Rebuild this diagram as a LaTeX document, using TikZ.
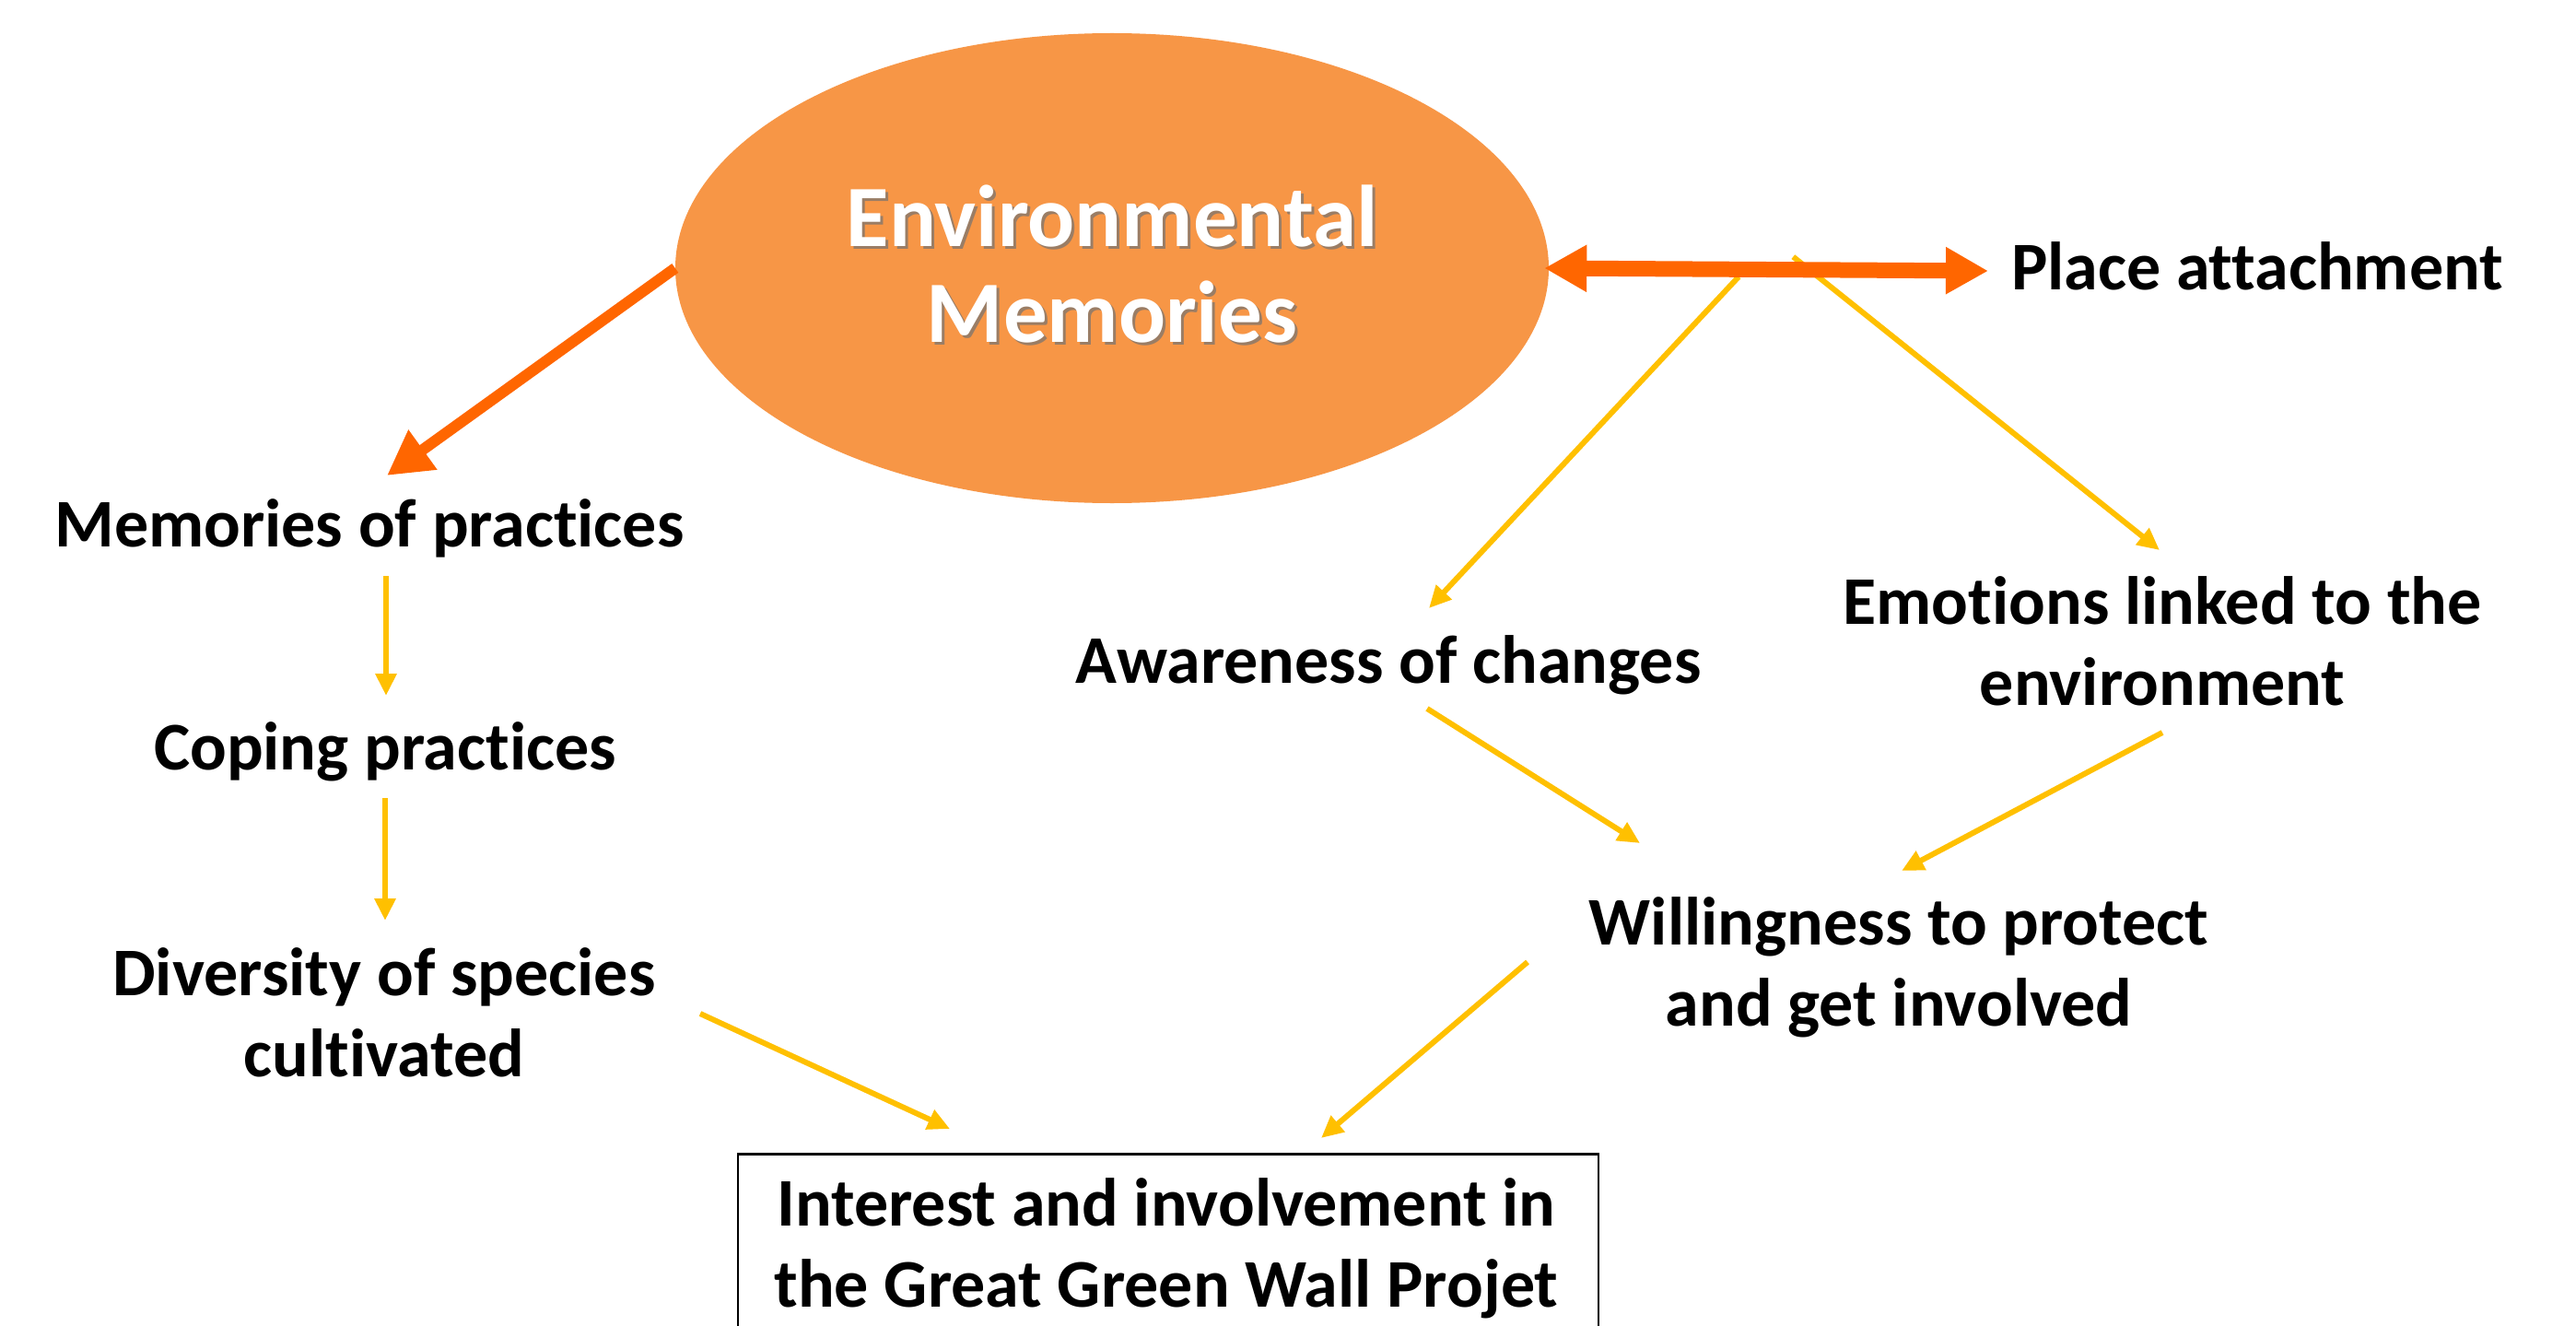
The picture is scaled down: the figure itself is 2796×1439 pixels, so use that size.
\documentclass[tikz,border=0pt]{standalone}
\usepackage{fontspec}
\setmainfont{Carlito}[Ligatures=NoCommon]
\usetikzlibrary{arrows.meta,shapes.geometric,calc}
\definecolor{emfill}{HTML}{F79646}
\definecolor{org}{HTML}{FF6600}
\definecolor{ylw}{HTML}{FFC000}
\begin{document}
\begin{tikzpicture}[x=1pt,y=-1pt,
  lbl/.style={font=\fontsize{74}{88}\selectfont\bfseries, align=center, anchor=base, inner sep=0pt},
  emtxt/.style={font=\fontsize{95}{104}\selectfont\bfseries, align=center, anchor=base, inner sep=0pt},
  ya/.style={draw=ylw, line width=6pt, -{Triangle[length=24pt,width=22pt]}},
  oa/.style={draw=org, line width=12pt, -{Triangle[length=48pt,width=50pt]}},
  dbl/.style={draw=org, line width=17pt, {Triangle[length=46pt,width=48pt]}-{Triangle[length=46pt,width=48pt]}},
  boxstyle/.style={draw=black, line width=2.5pt, minimum width=934pt, minimum height=230pt, anchor=north, inner sep=0pt}
]
\useasboundingbox (0,0) rectangle (2796,1439);
\clip (0,0) rectangle (2796,1439);
\fill[white] (0,0) rectangle (2796,1439);

% central ellipse (multi-line nodes are placed at the baseline of their last line)
\node[ellipse, fill=emfill, minimum width=948pt, minimum height=510pt, inner sep=0pt] (em) at (1207,291) {};
\node[emtxt, text=black!55, opacity=0.7] (emsh) at (1210,374) {Environmental\\Memories};
\node[emtxt, text=white] (emt) at (1207,371) {Environmental\\Memories};

% labels
\node[lbl] (pa) at (2450,314) {Place attachment};
\node[lbl] (mop) at (401,593) {Memories of practices};
\node[lbl] (cop) at (418,835) {Coping practices};
\node[lbl] (div) at (417,1168) {Diversity of species\\cultivated};
\node[lbl] (aw) at (1507,741) {Awareness of changes};
\node[lbl] (emo) at (2347,765) {Emotions linked to the\\environment};
\node[lbl] (wil) at (2061,1113) {Willingness to protect\\and get involved};
\node[boxstyle] (box) at (1268,1251) {};
\node[lbl] (boxt) at (1266,1418) {Interest and involvement in\\the Great Green Wall Projet};

% junction points on the double arrow
\coordinate (patip) at ($(pa.base)+(-292,-20)$);
\coordinate (j1) at ($(em.east)!0.432!(patip)+(0,8)$);
\coordinate (j2) at ($(em.east)!0.556!(patip)+(0,-14)$);

% yellow connectors
\draw[ya] (j1) -- ($(aw.base)+(44,-81)$);
\draw[ya] (j2) -- ($(emo.base)+(-3,-168)$);
\draw[ya] ($(mop.base)+(18,32)$) -- ($(cop.base)+(1,-80)$);
\draw[ya] ($(cop.base)+(0,31)$) -- ($(div.base)+(1,-169)$);
\draw[ya] ($(div.base)+(343,-68)$) -- ($(box.north)+(-237,-26)$);
\draw[ya] ($(wil.base)+(-403,-69)$) -- ($(box.north)+(166,-16)$);
\draw[ya] ($(aw.base)+(42,28)$) -- ($(wil.base)+(-281,-198)$);
\draw[ya] ($(emo.base)+(0,30)$) -- ($(wil.base)+(3,-168)$);

% orange connectors
\draw[oa] (em.west) -- ($(mop.base)+(19,-77)$);
\draw[dbl] ($(em.east)+(-5,0)$) -- (patip);
\end{tikzpicture}
\end{document}
